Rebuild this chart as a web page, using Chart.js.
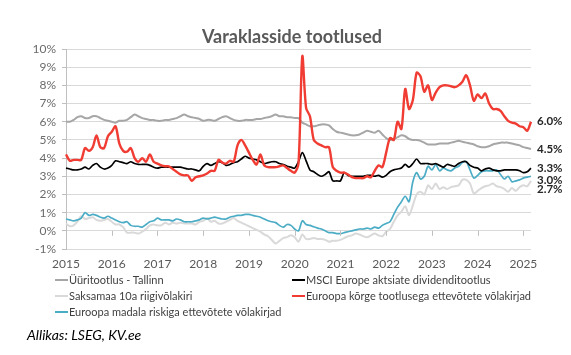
<!DOCTYPE html>
<html><head><meta charset="utf-8">
<script src="https://cdn.jsdelivr.net/npm/chart.js@4/dist/chart.umd.min.js"></script>
<style>
html,body{margin:0;padding:0;background:#fff;}
#wrap{position:relative;width:571px;height:355px;overflow:hidden;font-family:Lato,"Liberation Sans",sans-serif;}
#c{position:absolute;left:0;top:0;}
#title{position:absolute;left:0;width:584px;top:25px;text-align:center;font-weight:bold;font-size:18px;color:#595959;}
.lg{position:absolute;font-size:11px;color:#404040;white-space:nowrap;line-height:14px;}
.lg i{display:inline-block;width:13px;height:2px;vertical-align:middle;margin-right:1px;position:relative;top:-1px;}
#src{position:absolute;left:27px;top:326px;font-style:italic;font-size:14px;color:#000;}
</style></head><body>
<div id="wrap">
<canvas id="c" width="571" height="355"></canvas>
<div id="title">Varaklasside tootlused</div>
<div id="legend"></div>
<div id="src">Allikas: LSEG, KV.ee</div>
</div>
<script>
const startYear = 2015, nMonths = 123;
const months = [];
for (let i = 0; i < nMonths; i++) {
  const y = startYear + Math.floor(i / 12), m = (i % 12) + 1;
  months.push(y + '-' + String(m).padStart(2, '0'));
}
const yTicks = [-1,0,1,2,3,4,5,6,7,8,9,10];

const seriesNames = [
  'Üüritootlus - Tallinn',
  'MSCI Europe aktsiate dividenditootlus',
  'Saksamaa 10a riigivõlakiri',
  'Euroopa kõrge tootlusega ettevõtete võlakirjad',
  'Euroopa madala riskiga ettevõtete võlakirjad'
];

const rentTallinn = [
  6.0,6.0,6.1,6.25,6.3,6.2,6.2,6.3,6.3,6.2,6.1,6.05,
  6.0,5.95,6.05,6.05,6.1,6.25,6.4,6.3,6.2,6.15,6.1,6.1,
  6.05,6.05,6.1,6.1,6.15,6.2,6.3,6.4,6.3,6.25,6.2,6.15,
  6.05,6.1,6.1,6.05,6.15,6.25,6.3,6.2,6.1,6.05,6.05,6.1,
  6.1,6.1,6.15,6.15,6.2,6.25,6.3,6.4,6.3,6.3,6.25,6.25,
  6.2,6.2,5.95,5.85,5.75,5.75,5.8,5.85,5.85,5.8,5.6,5.45,
  5.4,5.35,5.3,5.25,5.25,5.3,5.4,5.5,5.45,5.4,5.5,5.3,
  5.1,5.0,5.05,5.15,5.25,5.2,5.05,5.0,5.0,4.95,4.85,4.75,
  4.75,4.75,4.8,4.8,4.8,4.85,4.9,4.95,4.9,4.85,4.8,4.75,
  4.65,4.6,4.6,4.65,4.75,4.8,4.85,4.85,4.85,4.8,4.75,4.7,
  4.6,4.55,4.5
];
const msciDividend = [
  3.45,3.4,3.35,3.35,3.4,3.5,3.4,3.6,3.7,3.5,3.4,3.45,
  3.6,3.85,3.8,3.75,3.7,3.8,3.7,3.65,3.65,3.65,3.6,3.5,
  3.45,3.5,3.5,3.5,3.5,3.5,3.5,3.45,3.4,3.4,3.35,3.3,
  3.55,3.7,3.6,3.7,3.8,3.75,3.6,3.65,3.75,3.8,3.95,4.1,
  4.0,3.95,3.9,3.8,3.7,3.75,3.8,3.8,3.7,3.65,3.55,3.5,
  3.45,3.8,4.3,3.85,3.35,3.25,3.1,3.0,3.1,3.25,2.75,2.75,
  2.75,3.2,3.05,3.0,3.0,3.0,3.0,3.05,3.05,3.0,3.05,2.95,
  3.05,3.25,3.35,3.4,3.45,3.65,3.5,3.7,3.95,3.7,3.7,3.7,
  3.65,3.7,3.6,3.5,3.65,3.6,3.55,3.7,3.8,3.8,3.6,3.5,
  3.45,3.3,3.4,3.45,3.35,3.3,3.3,3.35,3.35,3.35,3.35,3.3,
  3.2,3.25,3.45
];
const bund10y = [
  0.4,0.25,0.3,0.5,0.8,0.65,0.7,0.75,0.6,0.55,0.6,0.65,
  0.5,0.35,0.35,0.2,-0.1,-0.1,-0.1,-0.15,-0.05,0.1,0.3,0.35,
  0.3,0.3,0.45,0.35,0.45,0.4,0.45,0.4,0.4,0.4,0.35,0.5,
  0.55,0.7,0.5,0.55,0.4,0.4,0.5,0.6,0.7,0.55,0.45,0.35,
  0.25,0.15,0.05,-0.05,-0.2,-0.3,-0.5,-0.7,-0.55,-0.4,-0.35,-0.25,
  -0.35,-0.6,-0.2,-0.45,-0.45,-0.4,-0.45,-0.45,-0.5,-0.6,-0.55,-0.55,
  -0.5,-0.4,-0.3,-0.25,-0.15,-0.2,-0.3,-0.35,-0.25,-0.15,-0.25,-0.3,
  -0.05,0.1,0.5,0.85,1.05,1.35,0.85,1.4,2.0,2.15,2.0,2.5,
  2.3,2.6,2.3,2.4,2.3,2.4,2.45,2.5,2.8,2.8,2.6,2.05,
  2.2,2.35,2.45,2.5,2.6,2.45,2.4,2.3,2.15,2.35,2.2,2.4,
  2.5,2.45,2.75
];
const highYield = [
  4.2,3.85,3.9,3.9,3.9,4.55,4.4,4.6,5.25,4.6,4.55,5.2,
  5.45,5.75,4.8,4.4,4.35,4.55,4.0,3.8,4.0,3.8,4.2,3.8,
  3.7,3.6,3.55,3.55,3.4,3.25,3.1,3.05,3.05,2.75,2.95,3.0,
  3.05,3.15,3.3,3.3,3.9,3.75,3.7,3.85,3.8,4.7,5.0,4.7,
  4.3,3.9,3.65,4.2,3.6,3.5,3.5,3.5,3.55,3.6,3.45,3.3,
  3.2,3.7,9.6,6.75,6.3,5.0,4.8,4.7,4.6,4.6,3.5,3.3,
  3.2,3.2,3.1,2.95,2.9,2.9,2.9,3.0,2.95,3.3,3.6,3.5,
  4.3,5.1,5.0,6.0,5.6,7.8,6.7,7.2,8.7,8.5,7.65,8.0,
  7.2,7.6,7.9,8.0,8.0,7.95,7.9,8.0,8.2,8.55,8.0,7.15,
  7.5,7.3,7.55,7.0,6.7,6.7,6.6,6.3,6.05,5.95,5.9,5.75,
  5.7,5.5,6.0
];
const investmentGrade = [
  0.65,0.6,0.55,0.6,0.7,1.0,0.85,0.9,0.85,0.75,0.7,0.8,
  0.7,0.6,0.5,0.45,0.5,0.3,0.25,0.25,0.2,0.35,0.5,0.55,
  0.7,0.6,0.6,0.6,0.55,0.65,0.6,0.5,0.5,0.5,0.55,0.6,
  0.7,0.65,0.7,0.75,0.7,0.65,0.65,0.75,0.8,0.85,0.85,0.9,
  0.9,0.85,0.8,0.75,0.65,0.55,0.5,0.45,0.3,0.2,0.35,0.3,
  0.1,0.0,0.55,0.35,0.3,0.22,0.15,0.1,0.0,-0.1,-0.1,-0.15,
  -0.15,-0.1,-0.05,0.0,0.05,0.1,0.1,0.15,0.1,0.2,0.15,0.3,
  0.4,0.5,0.9,1.3,1.6,1.9,1.6,2.7,3.2,2.85,3.0,3.55,
  3.35,3.65,3.3,3.45,3.35,3.3,3.45,3.55,3.75,3.8,3.35,2.9,
  3.05,3.25,3.3,3.3,3.3,3.35,3.1,2.85,3.0,2.7,2.75,2.8,
  2.9,2.95,3.0
];
const endLabels = ['4.5%','3.3%','2.7%','6.0%','3.0%'];

const colors = ['#a6a6a6','#000000','#d9d9d9','#f03c32','#4bacc6'];
const widths = [2,1.7,2,2.4,1.7];
const labelNudge = [0,0,8,0,4];
const seriesData = [rentTallinn, msciDividend, bund10y, highYield, investmentGrade];
const drawOrder = [0,2,4,1,3];

const datasets = drawOrder.map(i => ({
  label: seriesNames[i],
  data: seriesData[i],
  borderColor: colors[i],
  backgroundColor: colors[i],
  borderWidth: widths[i],
  pointRadius: 0,
  tension: 0.3,
  fill: false,
  endLabel: endLabels[i],
  nudge: labelNudge[i],
  order: drawOrder.length - drawOrder.indexOf(i)
}));

const extras = {
  id: 'extras',
  afterDatasetsDraw(chart) {
    const {ctx, chartArea, scales} = chart;
    const y0 = scales.y.getPixelForValue(0);
    ctx.save();
    ctx.strokeStyle = '#bfbfbf';
    ctx.lineWidth = 1;
    ctx.beginPath();
    months.forEach((m, i) => {
      if (i % 12 === 0) {
        const x = Math.round(scales.x.getPixelForValue(i)) + 0.5;
        ctx.moveTo(x, y0); ctx.lineTo(x, y0 + 5);
      }
    });
    ctx.stroke();
    ctx.font = 'bold 11.5px Lato, "Liberation Sans", sans-serif';
    ctx.fillStyle = '#262626';
    ctx.textBaseline = 'middle';
    chart.data.datasets.forEach(ds => {
      const v = ds.data[ds.data.length - 1];
      const y = scales.y.getPixelForValue(v) + ds.nudge;
      ctx.fillText(ds.endLabel, chartArea.right + 6, y);
    });
    ctx.restore();
  }
};

new Chart(document.getElementById('c'), {
  type: 'line',
  data: { labels: months, datasets },
  options: {
    responsive: false,
    animation: false,
    layout: { padding: { top: 49, right: 40, bottom: 81, left: 0 } },
    plugins: { legend: { display: false }, title: { display: false }, tooltip: { enabled: false } },
    scales: {
      x: {
        type: 'category',
        offset: false,
        grid: { display: false, drawTicks: false },
        border: { display: false },
        ticks: {
          autoSkip: false, maxRotation: 0, padding: 8,
          color: '#595959', font: { family: 'Lato', size: 12 },
          callback: (v, i) => (i % 12 === 0 ? months[i].slice(0, 4) : '')
        },
        afterFit: s => { s.height = 25; }
      },
      y: {
        min: yTicks[0], max: yTicks[yTicks.length - 1],
        afterBuildTicks: s => { s.ticks = yTicks.map(v => ({ value: v })); },
        grid: { color: '#d9d9d9', lineWidth: 1, drawTicks: true, tickLength: 4, tickColor: '#bfbfbf' },
        border: { display: true, color: '#bfbfbf' },
        ticks: { color: '#6b6b6b', font: { family: 'Lato', size: 12 }, padding: 6, callback: v => v + '%' },
        afterFit: s => { s.width = 66; }
      }
    }
  },
  plugins: [extras]
});

const lg = document.getElementById('legend');
const pos = [[55,273],[292,273],[55,289],[292,289],[55,305]];
seriesNames.forEach((n, i) => {
  const d = document.createElement('div');
  d.className = 'lg';
  d.style.left = pos[i][0] + 'px';
  d.style.top = pos[i][1] + 'px';
  d.innerHTML = '<i style="background:' + colors[i] + '"></i>' + n;
  lg.appendChild(d);
});
</script>
</body></html>
